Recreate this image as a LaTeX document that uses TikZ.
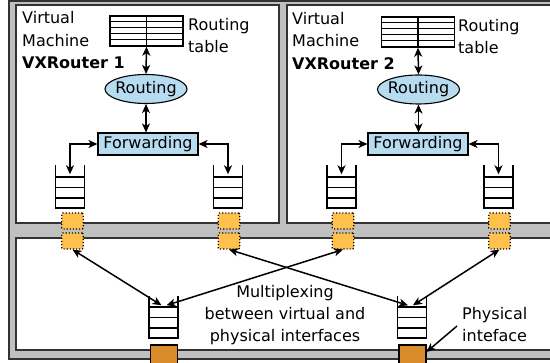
\documentclass[tikz,border=0pt]{standalone}
\usepackage{fontspec}
\setmainfont{DejaVu Sans}
\usetikzlibrary{arrows.meta,shapes.geometric,calc}
\definecolor{framegray}{HTML}{C0C0C0}
\definecolor{boxblue}{HTML}{B7DCEF}
\definecolor{ifaceorange}{HTML}{FFC04C}
\definecolor{physorange}{HTML}{DA8C2C}
\definecolor{framedark}{HTML}{333333}
\tikzset{
  lbl/.style={inner sep=0pt, anchor=base west},
  ctrlbl/.style={inner sep=0pt, anchor=base},
  conn/.style={line width=1.5pt, {Stealth[length=9pt,width=8pt,inset=2.5pt]}-{Stealth[length=9pt,width=8pt,inset=2.5pt]}},
  oneway/.style={line width=1.5pt, -{Stealth[length=9pt,width=8pt,inset=2.5pt]}},
  frame/.style={draw=framedark, line width=1.6pt},
  vif/.style={draw=black, dotted, line width=1.1pt, fill=ifaceorange, minimum width=21.5pt, minimum height=16pt, inner sep=0pt, rounded corners=1pt},
  pif/.style={draw=black, line width=1.1pt, fill=physorange, minimum width=27pt, minimum height=21pt, inner sep=0pt},
  routingbox/.style={ellipse, draw, fill=boxblue, minimum width=82pt, minimum height=29pt, inner sep=0pt, line width=1.1pt},
  fwdbox/.style={rectangle, draw, fill=boxblue, minimum width=100pt, minimum height=22pt, inner sep=0pt, line width=1.1pt},
  tablebox/.style={rectangle, draw, minimum width=73pt, minimum height=30pt, inner sep=0pt, line width=1.4pt},
  qbox/.style={rectangle, minimum width=29pt, inner sep=0pt},
  qline/.style={line width=1.5pt},
}
% name, cx, top y, bottom y
\newcommand{\myqueue}[4]{%
  \node[qbox, minimum height={#4-#3}] (#1) at (#2,{(#3+#4)/2}) {};
  \draw[qline] (#1.north west) -- (#1.south west) -- (#1.south east) -- (#1.north east);
  \foreach \k in {1,2,3} \draw[qline] ($(#1.south west)+(0,-10.4*\k)$) -- ($(#1.south east)+(0,-10.4*\k)$);
}
% name, cx, cy
\newcommand{\mytable}[3]{%
  \node[tablebox] (#1) at (#2,#3) {};
  \draw[line width=1.4pt] (#1.north) -- (#1.south);
  \foreach \k in {1,2,3,4} \draw[line width=1.4pt] ($(#1.north west)+(0,6*\k)$) -- ($(#1.north east)+(0,6*\k)$);
}
\begin{document}
\begin{tikzpicture}[x=1pt,y=-1pt,font=\fontsize{16}{22}\selectfont]
\useasboundingbox (0,0) rectangle (550,363);
\clip (0,0) rectangle (550,363);
\fill[white] (0,0) rectangle (550,363);
% frames
\draw[frame, fill=framegray] (9,1) rectangle (600,359);
\draw[frame, fill=white] (16,5) rectangle (279,223);
\draw[frame, fill=white] (287,5) rectangle (600,223);
\draw[frame, fill=white] (16,238) rectangle (600,350);

% ---------- VM 1 ----------
\node[lbl] (vm1a) at (22,24) {Virtual};
\node[lbl] (vm1b) at (22,46.5) {Machine};
\node[lbl, font=\fontsize{16}{22}\selectfont\bfseries] (vm1c) at (22,69) {VXRouter 1};
\mytable{tab1}{146.5}{31}
\node[lbl] (rtl1a) at (188,30.5) {Routing};
\node[lbl] (rtl1b) at (188,53) {table};
\node[routingbox] (rt1) at (146,89) {};
\node (rt1t) at (rt1.center) {Routing};
\node[fwdbox] (fw1) at (148,144) {Forwarding};
\myqueue{q1}{70}{165}{208}
\myqueue{q2}{228}{165}{208}
\draw[conn] (tab1.south) -- (rt1.north);
\draw[conn] (rt1.south) -- (rt1.south |- fw1.north);
\draw[conn] (fw1.west) -| ($(q1.north)+(0,9.5)$);
\draw[conn] (fw1.east) -| ($(q2.north)+(0,9.5)$);

% ---------- VM 2 ----------
\node[lbl] (vm2a) at (292,24.5) {Virtual};
\node[lbl] (vm2b) at (292,47) {Machine};
\node[lbl, font=\fontsize{16}{22}\selectfont\bfseries] (vm2c) at (292,69.5) {VXRouter 2};
\mytable{tab2}{418}{32}
\node[lbl] (rtl2a) at (458,31.5) {Routing};
\node[lbl] (rtl2b) at (458,54) {table};
\node[routingbox] (rt2) at (418.5,89.5) {};
\node (rt2t) at (rt2.center) {Routing};
\node[fwdbox] (fw2) at (418,144) {Forwarding};
\myqueue{q3}{341.5}{165}{208}
\myqueue{q4}{498.5}{165}{208}
\draw[conn] (tab2.south) -- (rt2.north);
\draw[conn] (rt2.south) -- (rt2.south |- fw2.north);
\draw[conn] (fw2.west) -| ($(q3.north)+(0,9.5)$);
\draw[conn] (fw2.east) -| ($(q4.north)+(0,9.5)$);

% ---------- interfaces ----------
\node[vif] (v1a) at (72.5,221) {};
\node[vif] (v1b) at (72.5,241) {};
\node[vif] (v2a) at (229,221) {};
\node[vif] (v2b) at (229,241) {};
\node[vif] (v3a) at (343,221) {};
\node[vif] (v3b) at (343,241) {};
\node[vif] (v4a) at (499.5,221) {};
\node[vif] (v4b) at (499.5,241) {};

% ---------- multiplexing ----------
\myqueue{q5}{163.5}{296.5}{338}
\myqueue{q6}{412}{296.5}{338}
\node[pif] (p1) at (164,355.5) {};
\node[pif] (p2) at (412.5,355.5) {};
\draw[conn] (v1b.south) -- ($(q5.north)+(-2,9)$);
\draw[conn] (v3b.south) -- ($(q5.north)+(3,9)$);
\draw[conn] (v2b.south) -- ($(q6.north)+(-4,9)$);
\draw[conn] (v4b.south) -- ($(q6.north)+(1,9)$);

\node[ctrlbl] (mx1) at (285,297.5) {Multiplexing};
\node[ctrlbl] (mx2) at (285,319.5) {between virtual and};
\node[ctrlbl] (mx3) at (285,341.5) {physical interfaces};

\node[lbl] (ph1) at (462,319.5) {Physical};
\node[lbl] (ph2) at (462,341.5) {inteface};
\coordinate (phpt) at (457,326);
\draw[oneway] (phpt) -- ($(p2.north east)+(0,7.5)$);
\end{tikzpicture}
\end{document}
